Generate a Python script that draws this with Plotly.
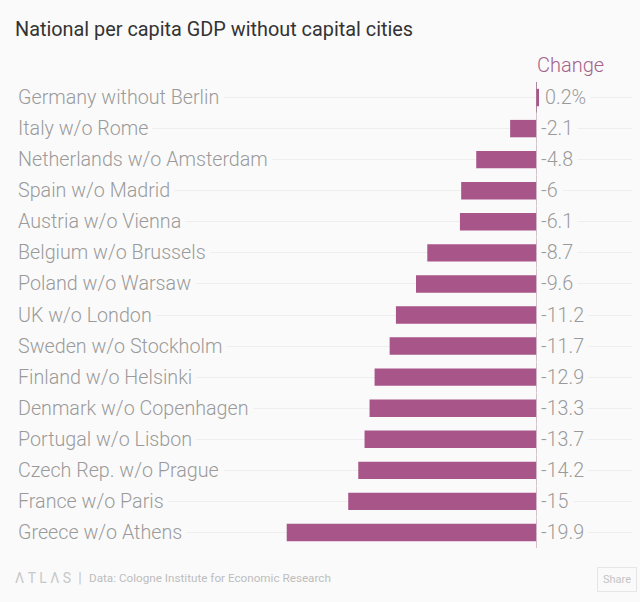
import plotly.graph_objects as go

countries = [
    "Germany without Berlin", "Italy w/o Rome", "Netherlands w/o Amsterdam",
    "Spain w/o Madrid", "Austria w/o Vienna", "Belgium w/o Brussels",
    "Poland w/o Warsaw", "UK w/o London", "Sweden w/o Stockholm",
    "Finland w/o Helsinki", "Denmark w/o Copenhagen", "Portugal w/o Lisbon",
    "Czech Rep. w/o Prague", "France w/o Paris", "Greece w/o Athens",
]
change = [0.2, -2.1, -4.8, -6, -6.1, -8.7, -9.6, -11.2, -11.7, -12.9, -13.3, -13.7, -14.2, -15, -19.9]
change_labels = ["0.2%", "-2.1", "-4.8", "-6", "-6.1", "-8.7", "-9.6", "-11.2", "-11.7",
                 "-12.9", "-13.3", "-13.7", "-14.2", "-15", "-19.9"]

BG = "#fafafa"
BAR = "#a8558a"
GREY = "#9a9a9a"
FONT = "Roboto"


def page_text(px, py, text, size, color, anchor="left", **kw):
    # place text by page pixel, plot area is x 17-632, y 82-548
    fig.add_annotation(x=(px - 17) / 615, xref="paper", y=(548 - py) / 466, yref="paper", text=text,
                       showarrow=False, xanchor=anchor, yanchor="middle",
                       font=dict(family=FONT, size=size, color=color), **kw)


fig = go.Figure()
fig.add_trace(go.Bar(x=change, y=countries, orientation="h", marker_color=BAR,
                     marker_line_width=0, hoverinfo="x+y"))

# row labels and values sit on top of the gridlines, the bgcolor cuts the line
for name, label in zip(countries, change_labels):
    fig.add_annotation(x=0, xref="paper", y=name, yref="y", text=name, showarrow=False,
                       xanchor="left", bgcolor=BG, borderpad=4, xshift=-4,
                       font=dict(family=FONT, size=19.7, color=GREY, weight=300))
    fig.add_annotation(x=0, xref="x", y=name, yref="y", text=label, showarrow=False,
                       xanchor="left", bgcolor=BG, borderpad=4,
                       xshift=0 if label.startswith("-") else 4,
                       font=dict(family=FONT, size=19.7, color=GREY, weight=300))

fig.add_annotation(x=0, xref="x", y=1, yref="paper", yshift=3, xshift=-1, text="Change", showarrow=False,
                   xanchor="left", yanchor="bottom", font=dict(family=FONT, size=20, color="#a4638a", weight=300))
page_text(13, 29, "National per capita GDP without capital cities", 19.85, "#333333")
page_text(13, 578, "Λ T L Λ S  |", 14, "#c8c8c8")
page_text(87, 578, "Data: Cologne Institute for Economic Research", 11.7, "#bdbdbd")
page_text(617, 579, "Share", 11, "#c4c4c4", anchor="center", bgcolor=BG,
          bordercolor="#e6e6e6", borderwidth=1, borderpad=5)

fig.update_layout(
    width=640, height=602, margin=dict(l=17, r=8, t=82, b=54),
    paper_bgcolor=BG, plot_bgcolor=BG, showlegend=False, bargap=0.44,
    xaxis=dict(range=[-41.39, 7.61], showgrid=False, showticklabels=False, ticks="",
               zeroline=True, zerolinecolor="#a98a9e", zerolinewidth=1),
    yaxis=dict(range=[14.5, -0.5], type="category", categoryorder="array", categoryarray=countries,
               showticklabels=False, ticks="", showgrid=True, gridcolor="#eeeeee", gridwidth=1,
               zeroline=False),
)

# page margin would push the figure 8px down and right
fig.write_html("out.html", config={"displayModeBar": False},
               post_script="document.body.style.margin='0';")
